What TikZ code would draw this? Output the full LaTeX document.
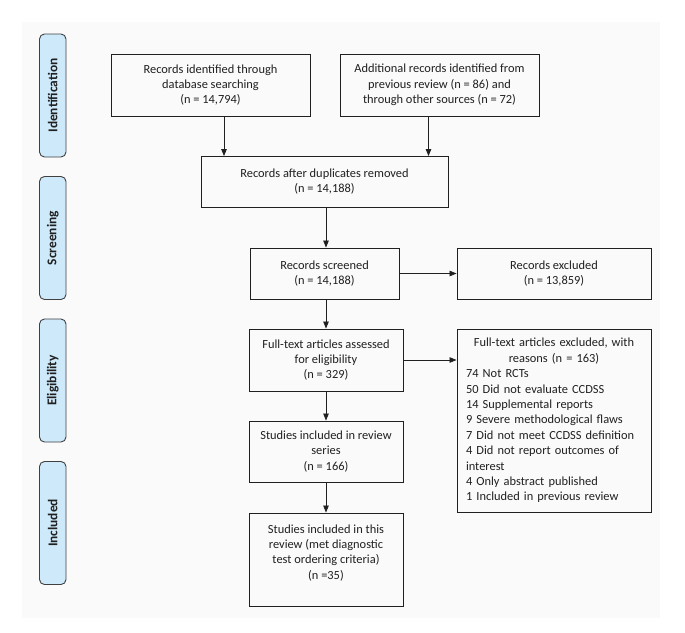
\documentclass[tikz,border=0pt]{standalone}
\usepackage{fontspec}
\setmainfont{Carlito}
\usetikzlibrary{arrows.meta}
\definecolor{labfill}{HTML}{CDE9FA}
\definecolor{labdraw}{HTML}{404040}
\definecolor{ink}{HTML}{202020}
\begin{document}
\begin{tikzpicture}[x=1pt,y=-1pt,
  box/.style={draw=ink,line width=0.9pt,rectangle,inner sep=0pt,align=center,
    font=\fontsize{12.4}{15.4}\selectfont,text=ink},
  phase/.style={draw=labdraw,fill=labfill,line width=0.9pt,rounded corners=5pt,
    minimum width=26.5pt,minimum height=123pt,inner sep=0pt},
  phasetext/.style={rotate=90,font=\fontsize{13.4}{15}\selectfont\bfseries,text=ink},
  arr/.style={-{Triangle[length=7pt,width=5.5pt]},line width=0.8pt,ink}]
\useasboundingbox (0,0) rectangle (685,632);
\fill[black!2] (22,22) rectangle (660,618);
% phase labels
\node[phase] (pid) at (52.75,95.5) {};
\node[phasetext] (tid) at (pid.center) {Identification};
\node[phase] (pscr) at (52.75,238) {};
\node[phasetext] (tscr) at (pscr.center) {Screening};
\node[phase] (pel) at (52.75,380.5) {};
\node[phasetext] (tel) at (pel.center) {Eligibility};
\node[phase] (pin) at (52.75,523) {};
\node[phasetext] (tin) at (pin.center) {Included};
% boxes
\node[box,minimum width=199pt,minimum height=62pt] (b1) at (210.5,85)
  {Records identified through\\database searching\\(n = 14,794)};
\node[box,minimum width=199pt,minimum height=62pt] (b2) at (439.5,85)
  {Additional records identified from\\previous review (n = 86) and\\through other sources (n = 72)};
\node[box,minimum width=247pt,minimum height=50.5pt] (dup) at (324.5,181.75)
  {Records after duplicates removed\\(n = 14,188)};
\node[box,minimum width=149pt,minimum height=51pt] (scr) at (324.5,273.5)
  {Records screened\\(n = 14,188)};
\node[box,minimum width=194pt,minimum height=51pt] (exc) at (554,273.5)
  {Records excluded\\(n = 13,859)};
\node[box,minimum width=154pt,minimum height=62pt] (ass) at (326,360)
  {Full-text articles assessed\\for eligibility\\(n = 329)};
\node[box,minimum width=194pt,minimum height=183pt,text width=176pt,align=left] (rea) at (554,420.5)
  {\centering Full-text articles excluded, with\\reasons (n = 163)\par\raggedright
   74 Not RCTs\\50 Did not evaluate CCDSS\\14 Supplemental reports\\9 Severe methodological flaws\\
   7 Did not meet CCDSS definition\\4 Did not report outcomes of\\interest\\4 Only abstract published\\
   1 Included in previous review};
\node[box,minimum width=154pt,minimum height=61pt] (ser) at (326,451.5)
  {Studies included in review\\series\\(n = 166)};
\node[box,minimum width=154pt,minimum height=93pt] (thr) at (326,559.5)
  {Studies included in this\\review (met diagnostic\\test ordering criteria)\\(n =35)\\\mbox{}};
% arrows
\draw[arr] ([xshift=13.5pt]b1.south) -- ([xshift=13.5pt]b1.south |- dup.north);
\draw[arr] ([xshift=-11pt]b2.south) -- ([xshift=-11pt]b2.south |- dup.north);
\draw[arr] (dup.south -| ass.north) -- (scr.north -| ass.north);
\draw[arr] (scr.east) -- (scr.east -| exc.west);
\draw[arr] (scr.south -| ass.north) -- (ass.north);
\draw[arr] (ass.east) -- (ass.east -| rea.west);
\draw[arr] (ass.south) -- (ser.north);
\draw[arr] (ser.south) -- (thr.north);
\end{tikzpicture}
\end{document}
